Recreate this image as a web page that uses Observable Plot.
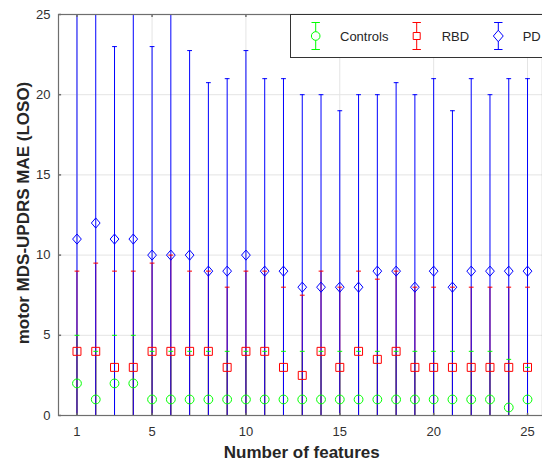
<!DOCTYPE html>
<html><head><meta charset="utf-8">
<script src="https://cdn.jsdelivr.net/npm/d3@7"></script>
<script src="https://cdn.jsdelivr.net/npm/@observablehq/plot@0.6"></script>
<style>
html,body{margin:0;padding:0;background:#fff;overflow:hidden;}
#chart svg{overflow:hidden;display:block;}
</style></head><body><div id="chart"></div>
<script>
// ---- data ----
const features = [1,2,3,4,5,6,7,8,9,10,11,12,13,14,15,16,17,18,19,20,21,22,23,24,25];
const controlsMean  = [2,1,2,2,1,1,1,1,1,1,1,1,1,1,1,1,1,1,1,1,1,1,1,0.5,1];
const controlsUpper = [5,4,5,5,4,4,4,4,4,4,4,4,4,4,4,4,4,4,4,4,4,4,4,3.5,3];
const rbdMean  = [4,4,3,3,4,4,4,4,3,4,4,3,2.5,4,3,4,3.5,4,3,3,3,3,3,3,3];
const rbdUpper = [9,9.5,9,9,9.5,10,9,9,8,9,9,8,7.5,9,8,9,8.5,9,8,8,8,8,8,8,8];
const pdMean  = [11,12,11,11,10,10,10,9,9,10,9,9,8,8,8,8,9,9,8,9,8,9,9,9,9];
const pdUpper = [27,28,23,27,23,26.5,22.75,20.75,21,22.75,21,21,20,20,19,20,20,20.75,20,21,19,21,20,21,21];
const seriesNames = ["Controls","RBD","PD"];
const seriesColors = ["#00ff00","#ff0000","#0000ff"];
const xTicks = [1,5,10,15,20,25];
const yTicks = [0,5,10,15,20,25];
const xLabel = "Number of features";
const yLabel = "motor MDS-UPDRS MAE (LOSO)";

// ---- symbols ----
const capSym = {draw(ctx, size){const r=Math.sqrt(size/Math.PI); ctx.moveTo(-r,0); ctx.lineTo(r,0);}};
const diamondSym = {draw(ctx, size){const r=Math.sqrt(size/Math.PI); ctx.moveTo(0,-r*1.1); ctx.lineTo(r*0.95,0); ctx.lineTo(0,r*1.1); ctx.lineTo(-r*0.95,0); ctx.closePath();}};
const tickUp = {draw(ctx,size){const r=Math.sqrt(size/Math.PI); ctx.moveTo(0,0); ctx.lineTo(0,-r);}};
const tickDown = {draw(ctx,size){const r=Math.sqrt(size/Math.PI); ctx.moveTo(0,0); ctx.lineTo(0,r);}};
const tickRight = {draw(ctx,size){const r=Math.sqrt(size/Math.PI); ctx.moveTo(0,0); ctx.lineTo(r,0);}};

const means = [controlsMean, rbdMean, pdMean];
const uppers = [controlsUpper, rbdUpper, pdUpper];
const markerSyms = ["circle", "square", diamondSym];
const markerR = [4.4, 4.5, 4.6];

const series = seriesNames.map((name, k) => ({
  name, color: seriesColors[k], sym: markerSyms[k], r: markerR[k],
  rows: features.map((f, i) => ({x: f, mean: means[k][i], upper: uppers[k][i], lower: 2*means[k][i]-uppers[k][i]}))
}));

const marks = [
  Plot.ruleX(xTicks, {x: d => d, stroke: "#e4e4e4", strokeWidth: 1}),
  Plot.ruleY(yTicks, {y: d => d, stroke: "#e4e4e4", strokeWidth: 1}),
];
// vertical bars: Controls, RBD, PD (PD on top)
for (const s of series) {
  marks.push(Plot.ruleX(s.rows, {x: "x", y1: "lower", y2: "upper", stroke: s.color, strokeWidth: 1, clip: true}));
}
// caps and markers: PD, RBD, Controls
for (const s of [...series].reverse()) {
  marks.push(Plot.dot(s.rows, {x: "x", y: "upper", symbol: capSym, r: 2.4, stroke: s.color, strokeWidth: 1, clip: true}));
  marks.push(Plot.dot(s.rows, {x: "x", y: "lower", symbol: capSym, r: 2.4, stroke: s.color, strokeWidth: 1, clip: true}));
  marks.push(Plot.dot(s.rows, {x: "x", y: "mean", symbol: s.sym, r: s.r, stroke: s.color, fill: "none", strokeWidth: 1, clip: true}));
}
marks.push(
  Plot.dot(xTicks, {x: d => d, frameAnchor: "bottom", symbol: tickUp, r: 2.6, stroke: "#6e6e6e"}),
  Plot.dot(xTicks, {x: d => d, frameAnchor: "top", symbol: tickDown, r: 2.6, stroke: "#6e6e6e"}),
  Plot.dot(yTicks, {y: d => d, frameAnchor: "left", symbol: tickRight, r: 2.6, stroke: "#6e6e6e"}),
  Plot.frame({stroke: "#6e6e6e", strokeWidth: 1.2})
);

const svg = Plot.plot({
  width: 542, height: 461,
  marginLeft: 58, marginRight: 0, marginTop: 14, marginBottom: 46,
  style: {fontFamily: "'Liberation Sans', Arial, sans-serif", fontSize: "13px", color: "#303030", background: "#fff"},
  x: {domain: [0, 26], range: [57.7, 545.8], ticks: xTicks, tickSize: 0, tickPadding: 11, label: null},
  y: {domain: [0, 25], range: [415, 14], ticks: yTicks, tickSize: 0, tickPadding: 8, label: null},
  marks
});

// ---- titles & legend ----
const g = d3.select(svg);
g.append("text").attr("x", 301.75).attr("y", 458).attr("text-anchor", "middle")
  .attr("font-weight", "bold").attr("font-size", 17).attr("fill", "#262626").text(xLabel);
g.append("text").attr("transform", "translate(28.5,213) rotate(-90)").attr("text-anchor", "middle")
  .attr("font-weight", "bold").attr("font-size", 17).attr("fill", "#262626").text(yLabel);

const leg = g.append("g");
leg.append("rect").attr("x", 290.5).attr("y", 14.5).attr("width", 260).attr("height", 43)
  .attr("fill", "#fff").attr("stroke", "#333").attr("stroke-width", 1);
const legSymX = [315.7, 416.7, 498.3];
const legTextX = [340, 441.7, 522.7];
const legSym = [d3.symbolCircle, d3.symbolSquare, diamondSym];
const legSize = [Math.PI*4.3*4.3, 49, Math.PI*5.2*5.2];
series.forEach((s, k) => {
  const cx = legSymX[k];
  leg.append("line").attr("x1", cx).attr("x2", cx).attr("y1", 22.3).attr("y2", 49.3).attr("stroke", s.color);
  leg.append("line").attr("x1", cx-4.2).attr("x2", cx+4.2).attr("y1", 22.5).attr("y2", 22.5).attr("stroke", s.color);
  leg.append("line").attr("x1", cx-4.2).attr("x2", cx+4.2).attr("y1", 49.5).attr("y2", 49.5).attr("stroke", s.color);
  leg.append("path").attr("d", d3.symbol(legSym[k], legSize[k])()).attr("transform", `translate(${cx},36)`)
    .attr("fill", "#fff").attr("stroke", s.color);
  leg.append("text").attr("x", legTextX[k]).attr("y", 36).attr("dy", "0.35em").attr("text-anchor", "start")
    .attr("font-size", 13).attr("fill", "#262626").text(s.name);
});

document.getElementById("chart").appendChild(svg);
</script>
</body></html>
